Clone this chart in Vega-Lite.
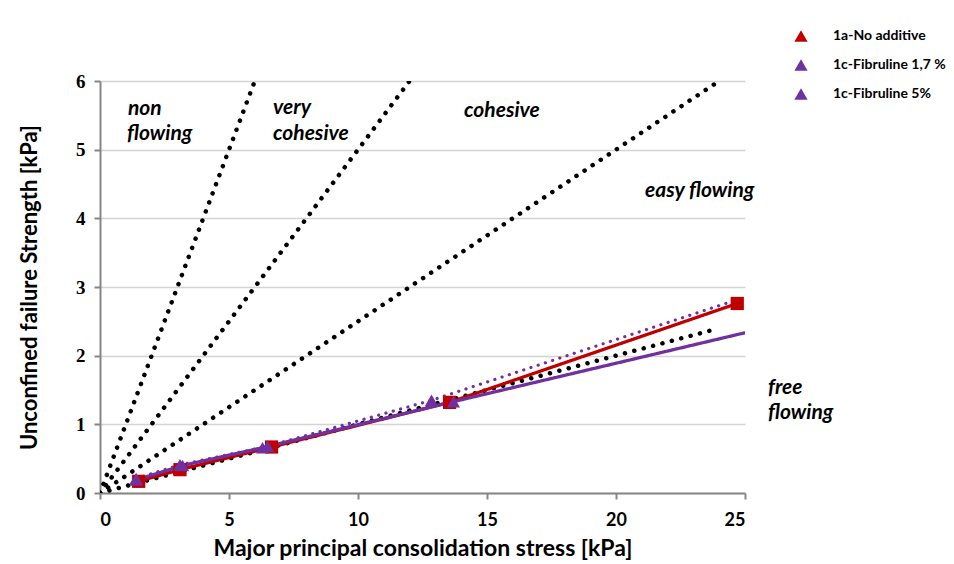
{
  "$schema": "https://vega.github.io/schema/vega-lite/v6.json",
  "width": 645,
  "height": 412,
  "autosize": {"type": "none"},
  "padding": {"left": 100, "top": 81, "right": 209, "bottom": 71},
  "background": "white",
  "config": {
    "view": {"stroke": null},
    "font": "Lato",
    "axis": {
      "domainColor": "#868686",
      "domainWidth": 2,
      "tickColor": "#868686",
      "tickWidth": 2,
      "tickSize": 6,
      "labelColor": "black",
      "titleColor": "black",
      "labelFontWeight": "bold",
      "titleFontWeight": "bold",
      "grid": false
    },
    "axisX": {"labelFont": "Lato", "labelFontSize": 18, "labelPadding": 12, "titleFont": "Lato", "titleFontSize": 23, "titlePadding": 8},
    "axisY": {"grid": true, "gridColor": "#d4d4d4", "gridWidth": 1.5, "labelFont": "Liberation Serif", "labelFontSize": 19, "labelPadding": 9, "titleFont": "Lato", "titleFontSize": 22, "titlePadding": 34}
  },
  "datasets": {
    "flowLimits": [
      {"ffc": "1", "x": 0, "y": 0}, {"ffc": "1", "x": 6, "y": 6},
      {"ffc": "2", "x": 0, "y": 0}, {"ffc": "2", "x": 12, "y": 6},
      {"ffc": "4", "x": 0, "y": 0}, {"ffc": "4", "x": 24, "y": 6},
      {"ffc": "10", "x": 0, "y": 0}, {"ffc": "10", "x": 23.7, "y": 2.37}
    ],
    "measurements": [
      {"series": "1a-No additive", "x": 1.5, "y": 0.17},
      {"series": "1a-No additive", "x": 3.1, "y": 0.34},
      {"series": "1a-No additive", "x": 6.65, "y": 0.67},
      {"series": "1a-No additive", "x": 13.55, "y": 1.32},
      {"series": "1a-No additive", "x": 24.7, "y": 2.76},
      {"series": "1c-Fibruline 1,7 %", "x": 1.4, "y": 0.19},
      {"series": "1c-Fibruline 1,7 %", "x": 3.2, "y": 0.4},
      {"series": "1c-Fibruline 1,7 %", "x": 6.3, "y": 0.66},
      {"series": "1c-Fibruline 1,7 %", "x": 13.7, "y": 1.33},
      {"series": "1c-Fibruline 1,7 %", "x": 28, "y": 2.6},
      {"series": "1c-Fibruline 5%", "x": 1.4, "y": 0.21},
      {"series": "1c-Fibruline 5%", "x": 3.1, "y": 0.41},
      {"series": "1c-Fibruline 5%", "x": 6.5, "y": 0.68},
      {"series": "1c-Fibruline 5%", "x": 12.85, "y": 1.35},
      {"series": "1c-Fibruline 5%", "x": 27, "y": 3.1}
    ],
    "regions": [
      {"label": "non", "x": 1.085, "y": 5.505},
      {"label": "flowing", "x": 1.047, "y": 5.141},
      {"label": "very", "x": 6.705, "y": 5.519},
      {"label": "cohesive", "x": 6.705, "y": 5.141},
      {"label": "cohesive", "x": 14.109, "y": 5.476},
      {"label": "easy flowing", "x": 21.124, "y": 4.311},
      {"label": "free", "x": 25.89, "y": 1.442},
      {"label": "flowing", "x": 25.89, "y": 1.078}
    ]
  },
  "layer": [
    {
      "data": {"name": "flowLimits"},
      "mark": {"type": "line", "color": "black", "strokeWidth": 4.5, "strokeCap": "round", "strokeDash": [0.1, 9.6], "clip": true},
      "encoding": {
        "x": {"field": "x", "type": "quantitative", "scale": {"domain": [0, 25], "nice": false}, "axis": {"values": [0, 5, 10, 15, 20, 25]}, "title": "Major principal consolidation stress [kPa]"},
        "y": {"field": "y", "type": "quantitative", "scale": {"domain": [0, 6], "nice": false}, "axis": {"values": [0, 1, 2, 3, 4, 5, 6], "format": "d"}, "title": "Unconfined failure Strength [kPa]"},
        "detail": {"field": "ffc", "type": "nominal"}
      }
    },
    {
      "data": {"name": "measurements"},
      "mark": {"type": "line", "strokeWidth": 3.2, "strokeCap": "round", "clip": true},
      "encoding": {
        "x": {"field": "x", "type": "quantitative", "title": "Major principal consolidation stress [kPa]"},
        "y": {"field": "y", "type": "quantitative", "title": "Unconfined failure Strength [kPa]"},
        "detail": {"field": "series", "type": "nominal"},
        "stroke": {"condition": {"test": "datum.series === '1a-No additive'", "value": "#c00000"}, "value": "#7030a0"},
        "strokeDash": {"condition": {"test": "datum.series === '1c-Fibruline 5%'", "value": [0.1, 7.5]}, "value": [1, 0]}
      }
    },
    {
      "data": {"name": "measurements"},
      "mark": {"type": "point", "filled": true, "opacity": 1, "size": 175, "clip": true},
      "encoding": {
        "x": {"field": "x", "type": "quantitative", "title": "Major principal consolidation stress [kPa]"},
        "y": {"field": "y", "type": "quantitative", "title": "Unconfined failure Strength [kPa]"},
        "shape": {"condition": {"test": "datum.series === '1a-No additive'", "value": "square"}, "value": "triangle-up"},
        "color": {
          "field": "series",
          "type": "nominal",
          "scale": {"domain": ["1a-No additive", "1c-Fibruline 1,7 %", "1c-Fibruline 5%"], "range": ["#c00000", "#7030a0", "#7030a0"]},
          "legend": {
            "title": null,
            "orient": "none",
            "legendX": 694,
            "legendY": -52,
            "padding": 0,
            "symbolSize": 175,
            "symbolStrokeWidth": 0,
            "labelFont": "Lato",
            "labelFontSize": 14,
            "labelFontWeight": "bold",
            "labelColor": "black",
            "labelOffset": 25,
            "rowPadding": 15,
            "labelLimit": 300,
            "encode": {
              "symbols": {
                "shape": {
                  "condition": [
                    {"test": "datum.value === '1a-No additive'", "value": "M-4,-0.25H4V0.25H-4Z M-1,-1H1V1H-1Z"},
                    {"test": "datum.value === '1c-Fibruline 1,7 %'", "value": "M-4,-0.25H4V0.25H-4Z M0,-1.15L1.15,0.85H-1.15Z"}
                  ],
                  "value": "M-4.12,0A0.32,0.32 0 1,0 -3.48,0A0.32,0.32 0 1,0 -4.12,0Z M-2.62,0A0.32,0.32 0 1,0 -1.98,0A0.32,0.32 0 1,0 -2.62,0Z M1.68,0A0.32,0.32 0 1,0 2.32,0A0.32,0.32 0 1,0 1.68,0Z M3.18,0A0.32,0.32 0 1,0 3.82,0A0.32,0.32 0 1,0 3.18,0Z M0,-1.15L1.15,0.85H-1.15Z"
                }
              }
            }
          }
        }
      }
    },
    {
      "data": {"name": "regions"},
      "mark": {"type": "text", "align": "left", "baseline": "alphabetic", "font": "Lato", "fontSize": 21, "fontStyle": "italic", "fontWeight": "bold", "color": "black"},
      "encoding": {
        "x": {"field": "x", "type": "quantitative", "title": "Major principal consolidation stress [kPa]"},
        "y": {"field": "y", "type": "quantitative", "title": "Unconfined failure Strength [kPa]"},
        "text": {"field": "label", "type": "nominal"}
      }
    }
  ]
}
